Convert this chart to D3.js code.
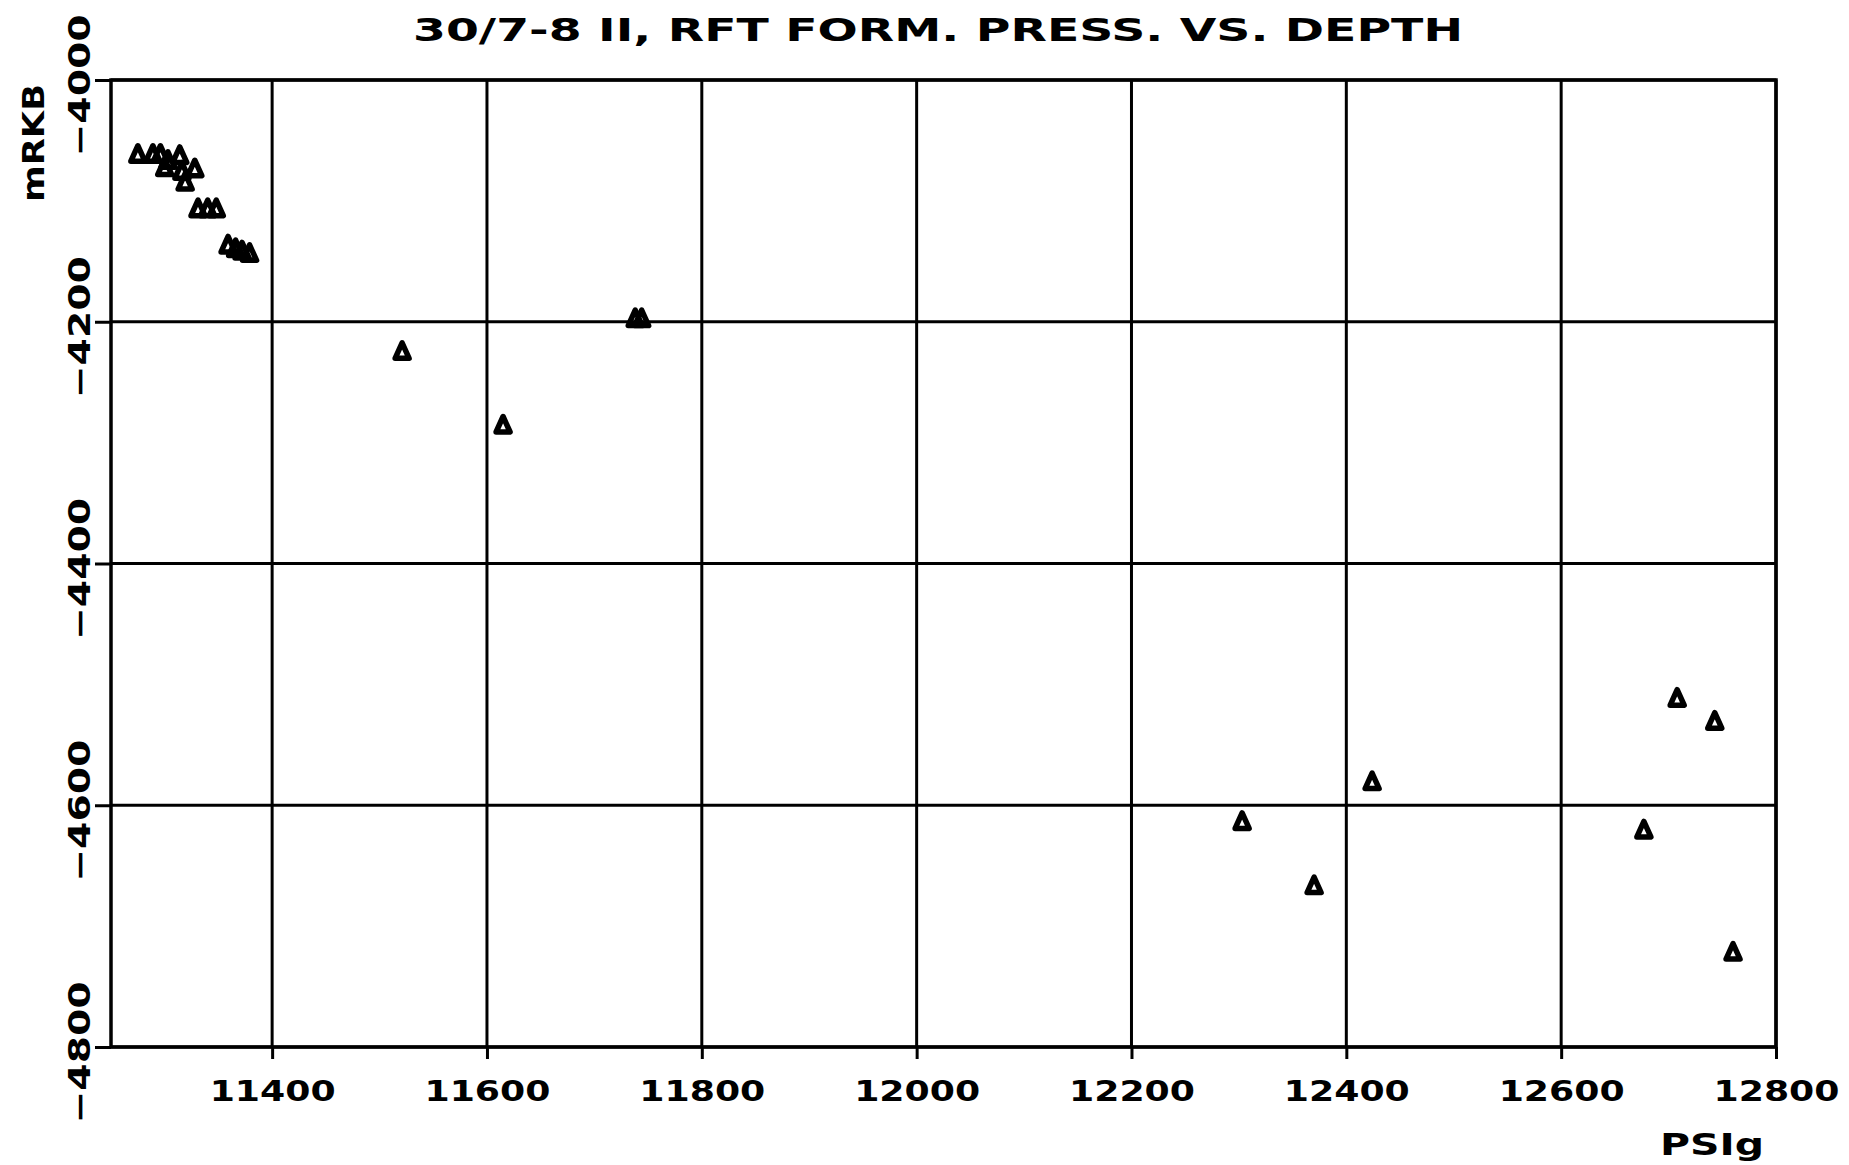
<!DOCTYPE html>
<html>
<head>
<meta charset="utf-8">
<script src="https://cdn.jsdelivr.net/npm/d3@7/dist/d3.min.js"></script>
<style>
  body { margin: 0; background: #fff; }
  svg { display: block; }
  text { font-family: "DejaVu Sans", sans-serif; font-weight: bold; fill: #000; }
</style>
</head>
<body>
<div id="chart"></div>
<script>
// RFT formation pressure (psig) vs depth (mRKB)
const pressure = [
    11275, 11289, 11296, 11303, 11314, 11300, 11316, 11319, 11328,
    11331, 11340, 11348, 11359, 11366, 11372, 11379,
    11521, 11615, 11738, 11744,
    12303, 12370, 12424, 12677, 12708, 12743, 12760
];
const depth = [
    -4061, -4061, -4061, -4066, -4062, -4072, -4075, -4084, -4073,
    -4106, -4106, -4106, -4136, -4139, -4141, -4143,
    -4224, -4285, -4197, -4197,
    -4613, -4666, -4580, -4620, -4511, -4530, -4721
];
const xTicks = [11400, 11600, 11800, 12000, 12200, 12400, 12600, 12800];
const yTicks = [-4000, -4200, -4400, -4600, -4800];
const xDomain = [11250, 12800];
const yDomain = [-4000, -4800];
const titleText = "30/7-8 II, RFT FORM. PRESS. VS. DEPTH";
const xLabel = "PSIg";
const yLabel = "mRKB";

function makeScales() {
    const x = d3.scaleLinear().domain(xDomain).range([111, 1776]);
    const y = d3.scaleLinear().domain(yDomain).range([80, 1047]);
    return { x, y };
}

function draw() {
    const width = 1849, height = 1165;
    const { x, y } = makeScales();
    const fmt = d3.format("d");

    const svg = d3.select("#chart").append("svg")
        .attr("width", width)
        .attr("height", height)
        .style("background", "#fff");

    // grid
    const grid = svg.append("g").attr("stroke", "#000").attr("stroke-width", 3);
    grid.selectAll("line.vx")
        .data(xTicks)
        .enter().append("line")
        .attr("x1", d => x(d)).attr("x2", d => x(d))
        .attr("y1", y.range()[0]).attr("y2", y.range()[1]);
    grid.selectAll("line.hy")
        .data(yTicks)
        .enter().append("line")
        .attr("y1", d => y(d)).attr("y2", d => y(d))
        .attr("x1", x.range()[0]).attr("x2", x.range()[1]);

    // frame
    svg.append("rect")
        .attr("x", x.range()[0]).attr("y", y.range()[0])
        .attr("width", x.range()[1] - x.range()[0])
        .attr("height", y.range()[1] - y.range()[0])
        .attr("fill", "none").attr("stroke", "#000").attr("stroke-width", 3.5);

    // x axis
    const xAxis = svg.append("g")
        .attr("transform", `translate(0,${y.range()[1]})`)
        .call(d3.axisBottom(x).tickValues(xTicks).tickSize(12).tickFormat(fmt));
    xAxis.select(".domain").remove();
    xAxis.selectAll(".tick line").attr("stroke", "#000").attr("stroke-width", 3);
    xAxis.selectAll(".tick text")
        .attr("y", 54).attr("dy", 0)
        .attr("font-size", 28)
        .attr("textLength", 126)
        .attr("lengthAdjust", "spacingAndGlyphs");

    // y axis, labels rotated
    const yAxis = svg.append("g")
        .attr("transform", `translate(${x.range()[0]},0)`)
        .call(d3.axisLeft(y).tickValues(yTicks).tickSize(16).tickFormat(fmt));
    yAxis.select(".domain").remove();
    yAxis.selectAll(".tick line").attr("stroke", "#000").attr("stroke-width", 3);
    yAxis.selectAll(".tick text")
        .attr("x", 0).attr("dy", 0).attr("y", 0)
        .attr("transform", "translate(-21,5) rotate(-90)")
        .attr("text-anchor", "middle")
        .attr("font-size", 30)
        .attr("textLength", 142)
        .attr("lengthAdjust", "spacingAndGlyphs");

    // title and axis names
    svg.append("text")
        .attr("x", 413).attr("y", 41)
        .attr("font-size", 32)
        .attr("textLength", 1050)
        .attr("lengthAdjust", "spacingAndGlyphs")
        .text(titleText);
    svg.append("text")
        .attr("x", 1660).attr("y", 1155)
        .attr("font-size", 31)
        .attr("textLength", 104)
        .attr("lengthAdjust", "spacingAndGlyphs")
        .text(xLabel);
    svg.append("text")
        .attr("transform", "translate(44,143) rotate(-90)")
        .attr("text-anchor", "middle")
        .attr("font-size", 30)
        .attr("textLength", 118)
        .attr("lengthAdjust", "spacingAndGlyphs")
        .text(yLabel);

    // triangle markers
    const tri = "M0,-8L7,7.5L-7,7.5Z";
    svg.append("g")
        .selectAll("path")
        .data(d3.zip(pressure, depth))
        .enter().append("path")
        .attr("d", tri)
        .attr("transform", d => `translate(${x(d[0])},${y(d[1])})`)
        .attr("fill", "none")
        .attr("stroke", "#000")
        .attr("stroke-width", 5.5)
        .attr("stroke-linejoin", "round");
}

draw();
</script>
</body>
</html>
